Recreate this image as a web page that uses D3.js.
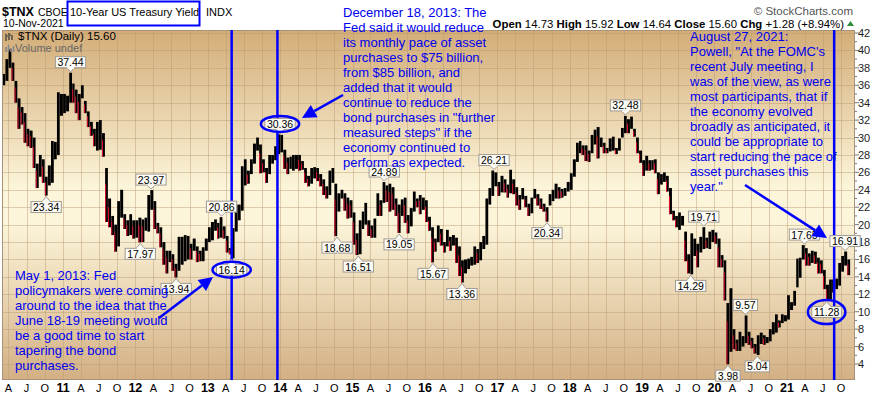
<!DOCTYPE html>
<html>
<head>
<meta charset="utf-8">
<title>$TNX</title>
<script src="https://cdn.jsdelivr.net/npm/d3@7"></script>
<style>
body{margin:0;background:#fff;}
svg{display:block;font-family:Arial,"Liberation Sans",sans-serif;}
</style>
</head>
<body>
<svg id="chart" width="874" height="397"></svg>
<script>
// $TNX half-month [low, high], first entry = 1-Mar-2010
var y2010 = [[36.0,37.3],[36.5,39.0],[38.0,40.1],[36.5,38.6],[34.0,36.5],[31.0,34.5],[31.5,33.5],[29.4,32.8],[29.0,31.0],[28.8,30.8],
  [26.5,30.0],[24.2,27.0],[25.5,28.0],[24.8,27.5],[23.34,25.5],[24.5,26.8],[24.8,29.6],[27.5,29.5],[28.0,35.2],[32.5,35.0]];
var y2011 = [[32.8,35.0],[33.0,34.8],[34.0,37.44],[34.0,36.2],[32.8,35.5],[32.0,35.0],[34.5,36.0],[32.8,34.2],[31.2,33.0],[30.2,31.8],
  [29.0,31.0],[28.5,31.8],[28.6,32.0],[27.8,30.5],[20.3,26.5],[19.7,23.0],[18.8,21.0],[16.9,20.0],[17.5,22.7],[20.8,24.0],
  [19.5,21.2],[18.7,20.5],[18.8,21.2],[18.4,20.5]];
var y2012 = [[18.5,20.5],[17.97,20.8],[18.0,20.6],[19.3,20.8],[19.2,23.4],[21.7,23.97],[19.5,22.7],[19.0,20.2],[17.4,19.7],[15.4,18.0],
  [14.4,17.0],[15.7,17.0],[14.7,16.6],[13.94,15.5],[14.7,18.6],[15.4,18.6],[15.8,18.8],[16.0,18.7],[16.0,17.8],[17.0,18.4],
  [15.7,17.5],[15.8,17.0],[15.8,17.4],[17.0,18.4]];
var y2013 = [[18.0,19.7],[18.2,20.3],[19.3,20.6],[18.4,20.2],[18.5,20.86],[18.4,19.8],[16.8,18.7],[16.6,17.3],[16.14,19.6],[19.2,22.3],
  [20.5,22.3],[21.6,26.7],[24.5,27.5],[24.7,26.2],[25.8,27.5],[27.0,29.3],[28.5,30.0],[25.9,29.2],[26.0,27.5],[24.8,26.5],
  [25.8,28.0],[27.0,28.0],[27.4,29.0],[28.1,30.36]];
var y2014 = [[28.3,30.3],[26.4,28.6],[25.8,27.7],[26.4,27.8],[26.2,28.0],[26.4,28.0],[26.2,28.0],[26.3,27.3],[24.8,26.5],[24.4,25.6],
  [24.7,26.5],[25.3,26.6],[25.0,26.5],[24.4,25.8],[23.4,25.2],[23.0,24.4],[23.4,26.2],[24.8,26.5],[18.68,24.7],[21.5,23.6],
  [23.0,24.0],[21.6,23.6],[20.7,23.1],[20.8,22.8]];
var y2015 = [[17.7,21.4],[16.51,19.0],[16.6,20.5],[19.5,21.5],[20.0,22.5],[18.7,20.5],[18.5,19.9],[18.5,20.7],[21.0,23.6],[21.0,22.8],
  [22.5,24.89],[22.6,24.5],[21.5,24.7],[21.7,24.3],[21.0,23.0],[19.05,22.3],[21.0,22.9],[20.2,23.1],[19.0,21.1],[19.8,21.9],
  [21.5,23.8],[22.0,23.0],[21.2,23.4],[21.7,23.1]];
var y2016 = [[20.3,22.8],[19.3,20.9],[15.67,19.7],[16.9,18.4],[18.0,19.9],[17.6,19.5],[16.8,18.0],[17.5,19.4],[17.0,18.6],[17.6,18.8],
  [15.6,18.5],[14.1,17.5],[13.36,15.9],[14.4,16.0],[14.9,16.1],[15.3,16.3],[15.4,17.5],[15.6,17.2],[15.9,18.0],[17.2,18.7],
  [17.7,23.0],[22.3,24.2],[23.3,26.21],[24.4,26.0]];
var y2017 = [[23.3,24.9],[23.7,25.6],[23.7,25.2],[23.1,24.6],[23.6,26.3],[23.5,25.2],[22.2,24.3],[21.7,23.4],[22.9,24.2],[22.0,23.3],
  [21.0,22.4],[21.3,23.1],[23.0,24.1],[22.2,23.5],[21.8,23.0],[21.5,22.4],[20.34,22.0],[22.2,23.5],[22.7,24.0],[23.0,24.7],
  [23.0,24.3],[23.1,24.1],[23.3,24.2],[23.8,24.9]];
var y2018 = [[24.0,25.9],[25.5,27.5],[27.2,29.4],[28.2,29.6],[28.0,29.1],[27.3,29.1],[27.2,28.5],[28.2,30.3],[29.2,30.9],[27.6,31.2],
  [28.9,30.0],[28.2,29.4],[28.2,28.8],[28.4,29.9],[28.5,30.1],[28.1,28.8],[28.5,29.9],[30.0,31.1],[30.5,32.48],[30.5,32.1],
  [31.0,32.4],[30.1,31.0],[28.2,30.0],[27.1,28.5]];
var y2019 = [[25.6,27.4],[26.2,27.9],[26.2,27.4],[26.3,27.4],[25.9,27.5],[23.5,26.0],[24.6,25.8],[24.9,26.0],[23.8,25.6],[21.2,24.2],
  [20.5,21.6],[19.7,21.0],[19.4,21.4],[19.9,21.0],[15.8,19.2],[14.4,16.6],[14.29,19.0],[16.4,18.4],[15.1,17.8],[16.8,18.6],
  [17.2,19.71],[17.3,18.5],[17.2,19.2],[18.0,19.4]];
var y2020 = [[17.8,19.1],[15.1,18.4],[15.1,16.5],[11.3,15.9],[3.98,11.0],[5.4,12.7],[5.7,8.0],[5.5,6.8],[5.5,7.7],[6.0,7.2],
  [6.4,9.57],[6.2,7.7],[5.8,7.0],[5.2,6.3],[5.04,7.3],[6.3,7.6],[6.2,7.3],[6.4,7.1],[6.6,8.0],[7.4,8.8],
  [7.6,9.7],[8.2,9.0],[8.7,9.7],[8.9,9.6]];
var y2021 = [[9.1,11.9],[10.2,11.1],[10.7,12.4],[12.8,16.1],[13.9,16.2],[16.0,17.65],[15.3,17.3],[15.3,16.7],[15.6,17.0],[15.5,16.9],
  [14.4,16.2],[14.4,15.9],[12.6,14.8],[11.28,13.1],[11.3,13.7],[12.2,13.7],[12.6,13.8],[13.0,15.6],[14.6,16.4],[15.3,16.91],
  [14.2,16.0]];

// labelled highs / lows
var labelDates  = ["2011-02-08","2010-10-08","2012-03-20","2012-01-26","2012-07-25","2013-03-11","2013-05-01","2013-12-31",
  "2015-06-10","2014-10-15","2015-01-30","2015-08-24","2016-02-11","2016-07-06","2016-12-15","2017-09-08",
  "2018-10-09","2019-11-08","2019-09-03","2020-06-05","2020-03-09","2020-08-04","2021-03-30","2021-07-20","2021-10-21"];
var labelValues = [37.44,23.34,23.97,17.97,13.94,20.86,16.14,30.36,24.89,18.68,16.51,19.05,15.67,13.36,26.21,20.34,
  32.48,19.71,14.29,9.57,3.98,5.04,17.65,11.28,16.91];
var labelSides  = ["up","dn","up","dn","dn","up","dn","up","up","dn","dn","dn","dn","dn","up","dn",
  "up","up","dn","up","dn","dn","up","dn","up"];
var circled = ["16.14","30.36","11.28"];

var eventDates = ["2013-05-01","2013-12-18","2021-08-27"];
var yTicks = d3.range(4, 43, 2);

var notes = [
  {x:15, y:280, lines:["May 1, 2013: Fed","policymakers were coming","around to the idea that the","June 18-19 meeting would","be a good time to start","tapering the bond","purchases."]},
  {x:343, y:16.5, lines:["December 18, 2013: The","Fed said it would reduce","its monthly pace of asset","purchases to $75 billion,","from $85 billion, and","added that it would","continue to reduce the","bond purchases in \"further","measured steps\" if the","economy continued to","perform as expected."]},
  {x:690, y:41, lines:["August 27, 2021:","Powell, \"At the FOMC's","recent July meeting, I","was of the view, as were","most participants, that if","the economy evolved","broadly as anticipated, it","could be appropriate to","start reducing the pace of","asset purchases this","year.\""]}
];
var arrows = [[[159,318],[213,277]],[[343,95],[302,118]],[[745,185],[827,238]]];

var svg = d3.select("#chart");
var parse = d3.timeParse("%Y-%m-%d");
var pLeft = 2, pRight = 855, pTop = 30, pBottom = 380;

var x = d3.scaleTime().domain([new Date(2011,0,1), new Date(2021,0,1)]).range([63, 787]);
var y = d3.scaleLinear().domain([4, 42]).range([364, 33]);

var halves = [].concat(y2010,y2011,y2012,y2013,y2014,y2015,y2016,y2017,y2018,y2019,y2020,y2021);
var bars = halves.map(function(d, i) {
  var m = Math.floor(i / 2);
  var start = new Date(2010, 2 + m, i % 2 ? 16 : 1);
  var end = new Date(2010, 2 + Math.floor((i + 1) / 2), (i + 1) % 2 ? 16 : 1);
  return {start:start, end:end, lo:d[0], hi:d[1], mid:(d[0]+d[1])/2};
});
bars.forEach(function(d, i) { d.down = i > 0 && d.mid < bars[i-1].mid; });

var defs = svg.append("defs");
var grad = defs.append("linearGradient").attr("id","bg").attr("x1",0).attr("x2",0).attr("y1",0).attr("y2",1);
grad.append("stop").attr("offset","0%").attr("stop-color","#d3ad78");
grad.append("stop").attr("offset","45%").attr("stop-color","#fcf5da");
grad.append("stop").attr("offset","55%").attr("stop-color","#fcf5da");
grad.append("stop").attr("offset","100%").attr("stop-color","#d3b084");
defs.append("clipPath").attr("id","plot").append("rect")
  .attr("x",pLeft).attr("y",pTop).attr("width",pRight-pLeft).attr("height",pBottom-pTop);

// header
var hdr = svg.append("g").style("font-size","11px");
hdr.append("text").attr("x",2).attr("y",16).style("font-weight","bold").style("font-size","12.5px").text("$TNX");
hdr.append("text").attr("x",38).attr("y",16).style("font-size","10.5px").text("CBOE");
hdr.append("text").attr("x",70).attr("y",16).text("10-Year US Treasury Yield");
hdr.append("rect").attr("x",67.5).attr("y",1.5).attr("width",132).attr("height",24)
  .style("fill","none").style("stroke","#0000ff").style("stroke-width",2);
hdr.append("text").attr("x",206).attr("y",16).text("INDX");
hdr.append("text").attr("x",3).attr("y",27).style("font-size","10.5px").text("10-Nov-2021");
hdr.append("text").attr("x",853).attr("y",15).attr("text-anchor","end").style("fill","#555").style("font-size","11.5px").text("\u00A9 StockCharts.com");

var ohlc = [["Open","14.73"],["High","15.92"],["Low","14.64"],["Close","15.60"],["Chg","+1.28 (+8.94%)"]];
var hl = hdr.append("text").attr("x",844).attr("y",28).attr("text-anchor","end").style("font-size","11.4px");
ohlc.forEach(function(p, i) {
  hl.append("tspan").style("font-weight","bold").text((i ? " " : "") + p[0]);
  hl.append("tspan").text(" " + p[1]);
});
hdr.append("path").attr("d","M847,26L850.5,21L854,26Z").style("fill","#2e8b3a");

// plot background + grid
svg.append("rect").attr("x",pLeft).attr("y",pTop).attr("width",pRight-pLeft).attr("height",pBottom-pTop).style("fill","url(#bg)");

var quarters = d3.timeMonth.every(3).range(new Date(2010,3,1), new Date(2021,11,1));
var grid = svg.append("g").attr("clip-path","url(#plot)").style("stroke","#b89a72").style("stroke-opacity",0.45).style("stroke-width",1);
grid.selectAll("line.v").data(quarters).enter().append("line")
  .attr("x1",function(d){return Math.round(x(d))+0.5;}).attr("x2",function(d){return Math.round(x(d))+0.5;})
  .attr("y1",pTop).attr("y2",pBottom);
grid.selectAll("line.h").data(yTicks).enter().append("line")
  .attr("y1",function(d){return Math.round(y(d))+0.5;}).attr("y2",function(d){return Math.round(y(d))+0.5;})
  .attr("x1",pLeft).attr("x2",pRight);

// price bars
var pg = svg.append("g").attr("clip-path","url(#plot)");
pg.selectAll("rect.b").data(bars).enter().append("rect")
  .attr("x",function(d){return x(d.start)+0.1;})
  .attr("width",function(d){return Math.max(1, x(d.end)-x(d.start)-0.2);})
  .attr("y",function(d){return y(d.hi);})
  .attr("height",function(d){return y(d.lo)-y(d.hi);})
  .style("fill","#000");
pg.selectAll("rect.r").data(bars.filter(function(d){return d.down;})).enter().append("rect")
  .attr("x",function(d){return x(d.start)+0.1;})
  .attr("width",1)
  .attr("y",function(d){return y(d.hi)+ (y(d.lo)-y(d.hi))*0.3;})
  .attr("height",function(d){return (y(d.lo)-y(d.hi))*0.7;})
  .style("fill","#e0102e");

// frame + axes
svg.append("rect").attr("x",pLeft+0.5).attr("y",pTop+0.5).attr("width",pRight-pLeft-1).attr("height",pBottom-pTop-1)
  .style("fill","none").style("stroke","#a8927a");

var ya = svg.append("g").style("font-size","11px").style("fill","#222");
ya.selectAll("line").data(d3.range(4, 43, 1)).enter().append("line")
  .attr("x1",pRight).attr("x2",function(d){return d % 2 ? pRight+2 : pRight+4;})
  .attr("y1",function(d){return y(d);}).attr("y2",function(d){return y(d);})
  .style("stroke","#777");
ya.selectAll("text").data(yTicks).enter().append("text")
  .attr("x",858).attr("y",function(d){return y(d)+4;}).text(function(d){return d;});

var monthNames = {3:"A",6:"J",9:"O"};
var xa = svg.append("g").attr("text-anchor","middle");
xa.selectAll("text").data(quarters).enter().append("text")
  .attr("x",function(d){return x(d);}).attr("y",392)
  .style("font-weight",function(d){return d.getMonth() ? "normal" : "bold";})
  .style("font-size",function(d){return d.getMonth() ? "11px" : "12.5px";})
  .text(function(d){return d.getMonth() ? monthNames[d.getMonth()] : d3.timeFormat("%y")(d);});

// legend
var lg = svg.append("g");
lg.append("path").attr("d","M6,34v7M7,36h1M9,33v7M10,35h1M12,35v5").style("stroke","#333").style("stroke-width",1.2);
lg.append("text").attr("x",18).attr("y",40).style("font-size","11.5px").text("$TNX (Daily) 15.60");
lg.append("path").attr("d","M6,52v-5M8.5,52v-7M11,52v-4M13.5,52v-6").style("stroke","#888").style("stroke-width",1.6);
lg.append("text").attr("x",15).attr("y",52).style("font-size","11px").style("fill","#666").text("Volume undef");

// event lines
svg.selectAll("line.ev").data(eventDates).enter().append("line")
  .attr("x1",function(d){return x(parse(d));}).attr("x2",function(d){return x(parse(d));})
  .attr("y1",pTop).attr("y2",pBottom).style("stroke","#0000ff").style("stroke-width",2.5);

// high/low labels
var labels = labelDates.map(function(d, i) {
  var px = x(parse(d)), py = y(labelValues[i]), up = labelSides[i] == "up";
  var by = up ? py - 16 : py + 6;
  return {x:px, tip:up ? py - 1 : py + 1, by:by, up:up, text:labelValues[i].toFixed(2)};
});
var lb = svg.append("g").style("font-size","10.5px");
labels.forEach(function(d) {
  var t = lb.append("text").attr("x",d.x).attr("y",d.by+9.5).attr("text-anchor","middle").text(d.text);
  var w = t.node().getComputedTextLength() + 4;
  var base = d.up ? d.by + 11 : d.by;
  lb.insert("rect","text").attr("x",d.x-w/2).attr("y",d.by).attr("width",w).attr("height",11)
    .style("fill","#fdfcf6").style("stroke","#a09a92");
  lb.insert("path","text").attr("d","M"+(d.x-4)+","+base+"L"+d.x+","+d.tip+"L"+(d.x+4)+","+base)
    .style("fill","#fdfcf6").style("stroke","#a09a92");
  lb.insert("line","text").attr("x1",d.x-3.5).attr("x2",d.x+3.5).attr("y1",base).attr("y2",base)
    .style("stroke","#fdfcf6").style("stroke-width",1.5);
  if (circled.indexOf(d.text) >= 0) {
    lb.append("ellipse").attr("cx",d.x).attr("cy",d.by+5.5).attr("rx",w/2+4).attr("ry",d.text=="11.28" ? 12 : 8)
      .style("fill","none").style("stroke","#0000ff").style("stroke-width",2.5);
  }
});

// notes
var ng = svg.append("g").style("font-size","13px").style("fill","#0000f0");
notes.forEach(function(n) {
  n.lines.forEach(function(s, i) {
    ng.append("text").attr("x",n.x).attr("y",n.y + i*15).text(s);
  });
});

// arrows
arrows.forEach(function(a) {
  var dx = a[1][0]-a[0][0], dy = a[1][1]-a[0][1], len = Math.sqrt(dx*dx+dy*dy);
  var ux = dx/len, uy = dy/len, hl = 14, hw = 7;
  var bx = a[1][0]-ux*hl, by = a[1][1]-uy*hl;
  svg.append("line").attr("x1",a[0][0]).attr("y1",a[0][1]).attr("x2",bx).attr("y2",by)
    .style("stroke","#0000ff").style("stroke-width",2.5);
  svg.append("path").attr("d","M"+a[1][0]+","+a[1][1]+"L"+(bx-uy*hw)+","+(by+ux*hw)+"L"+(bx+uy*hw)+","+(by-ux*hw)+"Z")
    .style("fill","#0000ff");
});
</script>
</body>
</html>
